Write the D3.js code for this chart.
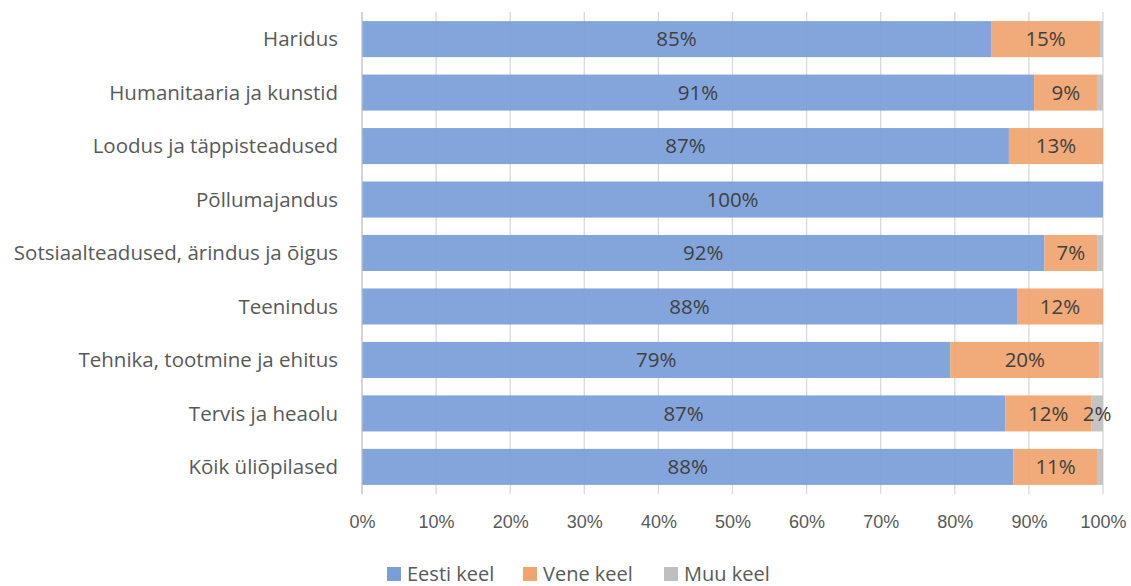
<!DOCTYPE html>
<html>
<head>
<meta charset="utf-8">
<script src="https://cdn.jsdelivr.net/npm/d3@7"></script>
<style>
  body { margin: 0; background: #fff; }
  svg { font-family: "Open Sans", Lato, sans-serif; }
  .tick text { fill: #595959; font-size: 18px; }
  .cat text { fill: #595959; font-size: 20.5px; }
  .lbl { fill: #404040; font-size: 20.5px; }
  .legend text { fill: #595959; font-size: 20px; }
</style>
</head>
<body>
<div id="chart"></div>
<script>
// andmed
const categories = ["Haridus", "Humanitaaria ja kunstid", "Loodus ja täppisteadused", "Põllumajandus",
  "Sotsiaalteadused, ärindus ja õigus", "Teenindus", "Tehnika, tootmine ja ehitus", "Tervis ja heaolu", "Kõik üliõpilased"];
const eesti = [84.9, 90.7, 87.3, 100, 92.1, 88.4, 79.4, 86.8, 87.9];
const vene  = [14.7, 8.6, 12.7, 0, 7.1, 11.6, 20.1, 11.6, 11.4];
const muu   = [0.4, 0.7, 0, 0, 0.8, 0, 0.5, 1.6, 0.7];
const seriesNames = ["Eesti keel", "Vene keel", "Muu keel"];
const colors = ["#7b9ed8", "#f0a46f", "#bfbfbf"];
const xTicks = [0, 10, 20, 30, 40, 50, 60, 70, 80, 90, 100];

const W = 1131, H = 586;
const margin = { top: 12, right: 28, bottom: 92, left: 362 };
const width = W - margin.left - margin.right;
const height = H - margin.top - margin.bottom;

const svg = d3.select("#chart").append("svg")
    .attr("width", W)
    .attr("height", H);
const g = svg.append("g")
    .attr("transform", "translate(" + margin.left + "," + margin.top + ")");

const x = d3.scaleLinear().domain([0, 100]).range([0, width]);
const y = d3.scaleBand().domain(categories).range([0, height]).paddingInner(0.326).paddingOuter(0.17);

// ruudustik
g.append("g").selectAll("line")
    .data(xTicks.slice(1))
    .enter().append("line")
    .attr("x1", d => x(d)).attr("x2", d => x(d))
    .attr("y1", 0).attr("y2", height)
    .style("stroke", "#d9d9d9").style("stroke-width", 1.3);

const rows = categories.map((c, i) => ({ cat: c, vals: [eesti[i], vene[i], muu[i]] }));
const segs = [];
rows.forEach(r => {
  let acc = 0;
  r.vals.forEach((v, k) => {
    segs.push({ cat: r.cat, k: k, x0: acc, x1: acc + v, v: v });
    acc += v;
  });
});

g.append("g").selectAll("rect")
    .data(segs.filter(d => d.v > 0))
    .enter().append("rect")
    .attr("x", d => x(d.x0))
    .attr("width", d => x(d.x1) - x(d.x0))
    .attr("y", d => y(d.cat))
    .attr("height", y.bandwidth())
    .style("fill", d => colors[d.k])
    .style("fill-opacity", 0.93);

// andmesildid
g.append("g").selectAll("text")
    .data(segs.filter(d => d.v >= 1.5))
    .enter().append("text")
    .attr("class", "lbl")
    .attr("x", d => d.k === 2 ? x(d.x0) + 6 : x((d.x0 + d.x1) / 2))
    .attr("y", d => y(d.cat) + y.bandwidth() / 2)
    .attr("dy", "0.36em")
    .attr("text-anchor", "middle")
    .text(d => Math.round(d.v) + "%");

// vertikaalne telg
g.append("line")
    .attr("x1", 0).attr("x2", 0).attr("y1", 0).attr("y2", height)
    .style("stroke", "#bfbfbf").style("stroke-width", 1.3);

// kategooriad
const cat = g.append("g").attr("class", "cat");
cat.selectAll("text")
    .data(categories)
    .enter().append("text")
    .attr("x", -24)
    .attr("y", d => y(d) + y.bandwidth() / 2)
    .attr("dy", "0.36em")
    .attr("text-anchor", "end")
    .text(d => d);

// x-telg
const xAxis = g.append("g")
    .attr("transform", "translate(0," + height + ")")
    .call(d3.axisBottom(x).tickValues(xTicks).tickFormat(d => d + "%").tickSize(0).tickPadding(21));
xAxis.select(".domain").remove();

// legend
const legend = svg.append("g").attr("class", "legend");
const lx = [387, 523, 664];
seriesNames.forEach((s, i) => {
  legend.append("rect")
      .attr("x", lx[i]).attr("y", 567)
      .attr("width", 14).attr("height", 14)
      .style("fill", colors[i]);
  legend.append("text")
      .attr("x", lx[i] + 20).attr("y", 574)
      .attr("dy", "0.36em")
      .text(s);
});
</script>
</body>
</html>
